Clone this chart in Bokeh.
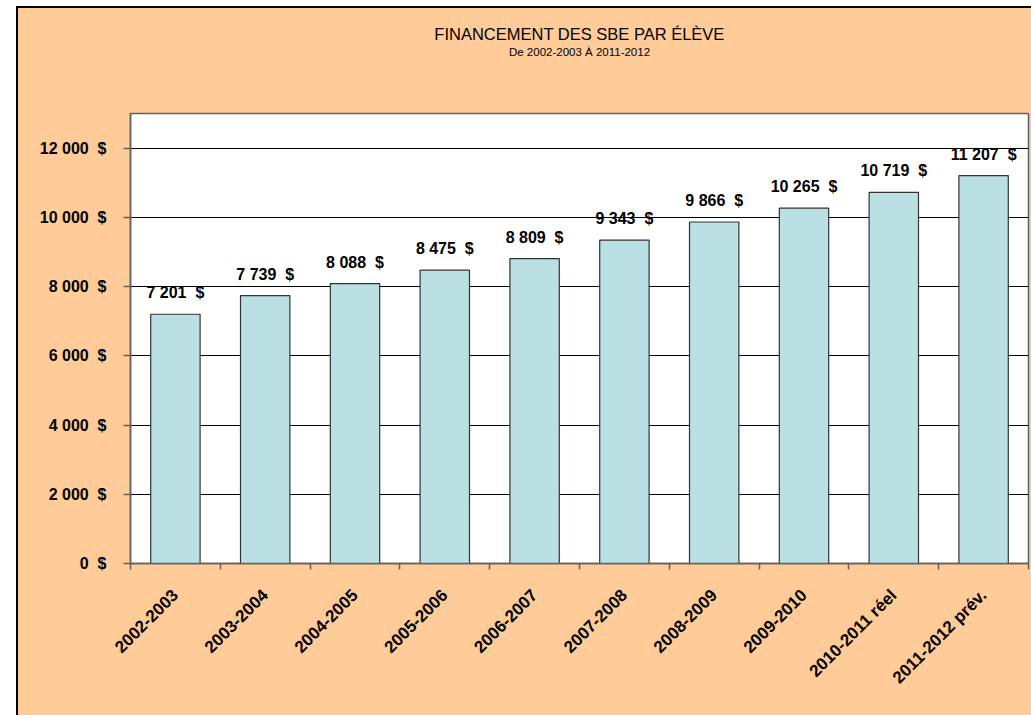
import math
from bokeh.plotting import figure
from bokeh.models import (FactorRange, Range1d, LinearAxis, CategoricalAxis, FixedTicker,
                          ColumnDataSource, LabelSet, Title, CustomLabelingPolicy)
from bokeh.core.properties import value
from bokeh.embed import file_html
from bokeh.resources import INLINE

categories = ["2002-2003", "2003-2004", "2004-2005", "2005-2006", "2006-2007",
              "2007-2008", "2008-2009", "2009-2010", "2010-2011 réel", "2011-2012 prév."]
values = [7201, 7739, 8088, 8475, 8809, 9343, 9866, 10265, 10719, 11207]
y_ticks = [0, 2000, 4000, 6000, 8000, 10000, 12000]
title_text = "FINANCEMENT DES SBE PAR ÉLÈVE"
subtitle_text = "De 2002-2003 À 2011-2012"


def fmt(v):
    return f"{v:,}".replace(",", " ") + "\u2007$"


FONT = "Liberation Sans"
BG = "#FFCC99"
BAR = "#BBE0E3"
GRAY = "#606060"

src = ColumnDataSource(dict(cat=categories, val=values, label=[fmt(v) for v in values]))

p = figure(x_range=FactorRange(*categories), y_range=Range1d(0, 13000),
           width=1031, height=715, output_backend="svg", toolbar_location=None,
           title=None, x_axis_location=None, y_axis_location="left",
           background_fill_color="white", border_fill_color=None,
           min_border_left=130, min_border_right=3, min_border_top=113, min_border_bottom=152,
           outline_line_color=GRAY, outline_line_width=1.5)
p.styles = {
    "background-image": ("linear-gradient(90deg, #ffffff 0px 16px, transparent 16px), "
                         "linear-gradient(180deg, #ffffff 0px 6px, transparent 6px), "
                         "linear-gradient(90deg, #000000 0px 18px, transparent 18px), "
                         "linear-gradient(180deg, #000000 0px 8px, " + BG + " 8px)"),
}

# boundary ticks between categories (synthetic coordinates 0..N of the factor range)
tick_axis = LinearAxis(ticker=FixedTicker(ticks=list(range(len(categories) + 1))),
                       major_tick_out=6, major_tick_in=0, minor_tick_line_color=None,
                       major_label_policy=CustomLabelingPolicy(
                           code="for (const i of indices) indices.unset(i); return indices"),
                       major_label_standoff=0,
                       axis_line_color=GRAY, axis_line_width=1.5, major_tick_line_color=GRAY,
                       major_tick_line_width=1.5)
p.add_layout(tick_axis, "below")

cat_axis = CategoricalAxis(major_tick_line_color=None, axis_line_color=None,
                           major_label_orientation=math.pi / 4, major_label_standoff=6,
                           major_label_text_font=FONT, major_label_text_font_size="17px",
                           major_label_text_font_style="bold", major_label_text_color="black")
p.add_layout(cat_axis, "below")

ya = p.yaxis[0]
ya.ticker = FixedTicker(ticks=y_ticks)
ya.major_label_overrides = {t: fmt(t) for t in y_ticks}
ya.major_label_text_font = FONT
ya.major_label_text_font_size = "16px"
ya.major_label_text_font_style = "bold"
ya.major_label_text_color = "black"
ya.major_tick_out = 7
ya.major_tick_in = 0
ya.minor_tick_line_color = None
ya.axis_line_color = GRAY
ya.axis_line_width = 1.5
ya.major_tick_line_color = GRAY
ya.major_tick_line_width = 1.5
ya.major_label_standoff = 17

p.ygrid.ticker = FixedTicker(ticks=y_ticks)
p.ygrid.grid_line_color = "black"
p.ygrid.grid_line_width = 1
p.xgrid.visible = False

p.vbar(x="cat", top="val", width=0.55, source=src, fill_color=BAR,
       line_color="#333333", line_width=1.2)

labels = LabelSet(x="cat", y="val", text="label", source=src, text_align="center",
                  text_baseline="alphabetic", y_offset=16, text_font=value(FONT),
                  text_font_size="16px", text_font_style="bold", text_color="black")
p.add_layout(labels)

# blank spacer between the frame and the titles
gap = Title(text="\u00a0", align="center", text_font=FONT, text_font_size="11.5px",
            text_color=BG, standoff=41)
p.add_layout(gap, "above")

sub = Title(text=subtitle_text, align="center", text_font=FONT, text_font_size="11.5px",
            text_font_style="normal", text_color="black", standoff=2)
p.add_layout(sub, "above")
main = Title(text=title_text, align="center", text_font=FONT, text_font_size="16.5px",
             text_font_style="normal", text_color="black", standoff=0)
p.add_layout(main, "above")

open("out.html", "w").write(file_html(p, INLINE))
